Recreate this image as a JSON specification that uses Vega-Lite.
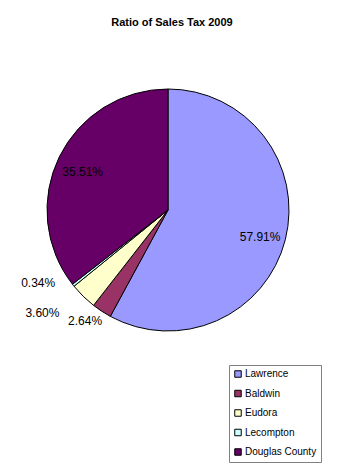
{
  "$schema": "https://vega.github.io/schema/vega-lite/v6.json",
  "width": 336,
  "height": 420,
  "autosize": "none",
  "padding": {"left": 0, "top": 0, "right": 4, "bottom": 55},
  "background": "white",
  "title": {
    "text": "Ratio of Sales Tax 2009",
    "font": "Liberation Sans",
    "fontSize": 11,
    "fontWeight": "bold",
    "color": "black",
    "anchor": "middle",
    "offset": -28,
    "dx": 4
  },
  "config": {
    "view": {"stroke": null},
    "text": {"font": "Liberation Sans", "fontSize": 12, "color": "black"}
  },
  "data": {
    "values": [
      {"name": "Lawrence", "share": 0.5791, "i": 1},
      {"name": "Baldwin", "share": 0.0264, "i": 2},
      {"name": "Eudora", "share": 0.036, "i": 3},
      {"name": "Lecompton", "share": 0.0034, "i": 4},
      {"name": "Douglas County", "share": 0.3551, "i": 5}
    ]
  },
  "encoding": {
    "theta": {"field": "share", "type": "quantitative", "stack": true},
    "order": {"field": "i", "type": "ordinal"},
    "detail": {"field": "name", "type": "nominal"}
  },
  "layer": [
    {
      "mark": {"type": "arc", "outerRadius": 121, "stroke": "black", "strokeWidth": 1},
      "encoding": {
        "color": {
          "field": "name",
          "type": "nominal",
          "scale": {
            "domain": ["Lawrence", "Baldwin", "Eudora", "Lecompton", "Douglas County"],
            "range": ["#9999FF", "#993366", "#FFFFCC", "#CCFFFF", "#660066"]
          },
          "legend": {
            "orient": "none",
            "legendX": 229,
            "legendY": 365,
            "title": null,
            "symbolType": "square",
            "symbolSize": 42,
            "symbolStrokeColor": "black",
            "symbolStrokeWidth": 1,
            "labelFont": "Liberation Sans",
            "labelFontSize": 10,
            "labelColor": "black",
            "labelOffset": 2,
            "strokeColor": "#808080",
            "fillColor": "white",
            "padding": 4,
            "rowPadding": 7.5
          }
        }
      }
    },
    {
      "mark": {"type": "text", "radius": 95, "dy": 4, "align": "center", "baseline": "middle"},
      "encoding": {
        "text": {
          "condition": {"test": "datum.share > 0.1", "field": "share", "type": "quantitative", "format": ".2%"},
          "value": ""
        }
      }
    },
    {
      "mark": {"type": "text", "radius": 144, "dy": -17, "align": "right", "baseline": "middle"},
      "encoding": {
        "text": {
          "condition": {"test": "datum.name === 'Lecompton'", "field": "share", "type": "quantitative", "format": ".2%"},
          "value": ""
        }
      }
    },
    {
      "mark": {"type": "text", "radius": 155, "dy": -8, "align": "right", "baseline": "middle"},
      "encoding": {
        "text": {
          "condition": {"test": "datum.name === 'Eudora'", "field": "share", "type": "quantitative", "format": ".2%"},
          "value": ""
        }
      }
    },
    {
      "mark": {"type": "text", "radius": 133, "dx": -10, "align": "center", "baseline": "middle"},
      "encoding": {
        "text": {
          "condition": {"test": "datum.name === 'Baldwin'", "field": "share", "type": "quantitative", "format": ".2%"},
          "value": ""
        }
      }
    }
  ]
}
